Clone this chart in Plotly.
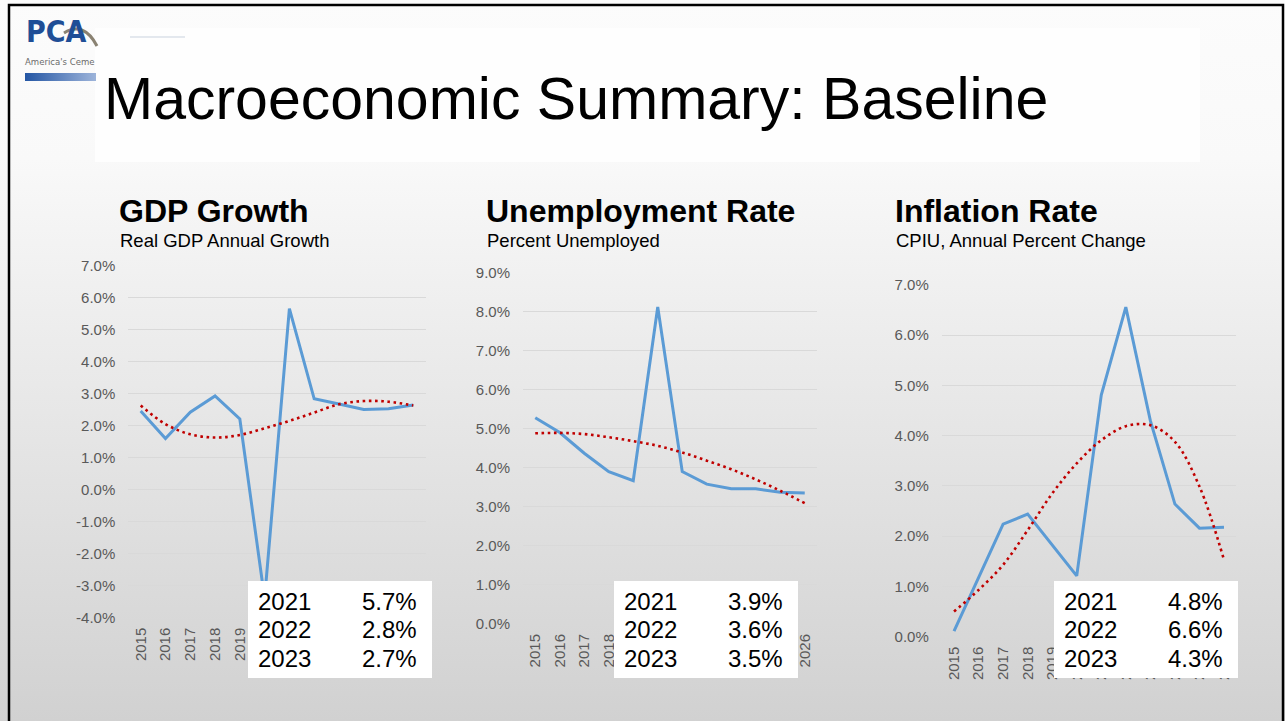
import base64
import plotly.graph_objects as go

# ---- data -------------------------------------------------------------
years = ["2015", "2016", "2017", "2018", "2019", "2020",
         "2021", "2022", "2023", "2024", "2025", "2026"]

gdp_growth = [2.46, 1.60, 2.42, 2.93, 2.21, -3.40, 5.66, 2.84, 2.68, 2.51, 2.53, 2.65]
gdp_trend = [2.63, 2.05, 1.73, 1.63, 1.71, 1.92, 2.15, 2.41, 2.67, 2.77, 2.75, 2.63]

unemployment = [5.28, 4.90, 4.37, 3.90, 3.67, 8.11, 3.90, 3.58, 3.46, 3.46, 3.37, 3.35]
unemployment_trend = [4.88, 4.89, 4.86, 4.78, 4.68, 4.56, 4.39, 4.18, 3.96, 3.70, 3.41, 3.09]

inflation = [0.11, 1.19, 2.24, 2.44, 1.82, 1.21, 4.81, 6.56, 4.30, 2.64, 2.16, 2.18]
inflation_trend = [0.50, 0.93, 1.43, 2.12, 2.85, 3.45, 3.91, 4.19, 4.21, 3.88, 2.99, 1.53]

table_years = ["2021", "2022", "2023"]

gdp_ticks = [-4, -3, -2, -1, 0, 1, 2, 3, 4, 5, 6, 7]
unemployment_ticks = [0, 1, 2, 3, 4, 5, 6, 7, 8, 9]
inflation_ticks = [0, 1, 2, 3, 4, 5, 6, 7]

# ---- page geometry helpers ---------------------------------------------
W, H = 1285, 721


def px(x):
    return x / W


def py(y):
    return 1 - y / H


FONT = "Liberation Sans, Arial, sans-serif"
COND = "DejaVu Sans Condensed, DejaVu Sans, sans-serif"
BLUE = "#5B9BD5"
RED = "#C00000"
GRID = "#D9D9D9"
TICK = "#595959"

panels = [
    dict(title="GDP Growth", subtitle="Real GDP Annual Growth",
         values=gdp_growth, trend=gdp_trend, ticks=gdp_ticks,
         xdom=(128.3, 425.7), ytop=265.7, ybot=617.7,
         head_x=117, box=(248, 581, 432, 678)),
    dict(title="Unemployment Rate", subtitle="Percent Unemployed",
         values=unemployment, trend=unemployment_trend, ticks=unemployment_ticks,
         xdom=(523.0, 817.0), ytop=272.3, ybot=624.0,
         head_x=484, box=(614, 581, 798, 678)),
    dict(title="Inflation Rate", subtitle="CPIU, Annual Percent Change",
         values=inflation, trend=inflation_trend, ticks=inflation_ticks,
         xdom=(941.75, 1236.25), ytop=285.0, ybot=636.7,
         head_x=893, box=(1054, 581, 1238, 678)),
]

fig = go.Figure()
shapes = []
annotations = []

# slide background: soft vertical gradient, title band and logo bar
svg = f"""<svg xmlns='http://www.w3.org/2000/svg' width='{W}' height='{H}' viewBox='0 0 {W} {H}' preserveAspectRatio='none'>
<defs><linearGradient id='g' x1='0' y1='0' x2='0' y2='1'>
<stop offset='0' stop-color='#fcfcfc'/>
<stop offset='0.22' stop-color='#f9f9f9'/>
<stop offset='1' stop-color='#d1d1d1'/>
</linearGradient>
<linearGradient id='b' x1='0' y1='0' x2='1' y2='0'>
<stop offset='0' stop-color='#2456a4'/>
<stop offset='1' stop-color='#9db4da'/>
</linearGradient></defs>
<rect x='0' y='0' width='{W}' height='{H}' fill='url(#g)'/>
<rect x='95' y='28' width='1105' height='134' fill='#fefefe'/>
<rect x='25' y='73' width='71' height='8' fill='url(#b)'/>
</svg>"""
fig.add_layout_image(
    source="data:image/svg+xml;base64," + base64.b64encode(svg.encode()).decode(),
    xref="paper", yref="paper", x=0, y=1, sizex=1, sizey=1,
    xanchor="left", yanchor="top", sizing="stretch", layer="below",
)

for i, p in enumerate(panels, start=1):
    xa = "x" if i == 1 else f"x{i}"
    ya = "y" if i == 1 else f"y{i}"
    fig.add_trace(go.Scatter(
        x=years, y=p["values"], mode="lines", xaxis=xa, yaxis=ya,
        line=dict(color=BLUE, width=3), showlegend=False, hoverinfo="skip"))
    fig.add_trace(go.Scatter(
        x=years, y=p["trend"], mode="lines", xaxis=xa, yaxis=ya,
        line=dict(color=RED, width=2.6, dash="2.6px,3.6px", shape="spline", smoothing=1.0),
        showlegend=False, hoverinfo="skip"))

    lo, hi = p["ticks"][0], p["ticks"][-1]
    xkey = "xaxis" if i == 1 else f"xaxis{i}"
    ykey = "yaxis" if i == 1 else f"yaxis{i}"
    fig.update_layout({
        xkey: dict(
            domain=[px(p["xdom"][0]), px(p["xdom"][1])], anchor=ya,
            type="category", range=[-0.5, len(years) - 0.5], automargin=False,
            showgrid=False, zeroline=False, showline=False,
            tickangle=-90, ticks="", ticklabelstandoff=6,
            tickfont=dict(family=FONT, size=15, color=TICK),
        ),
        ykey: dict(
            domain=[py(p["ybot"]), py(p["ytop"])], anchor=xa,
            range=[lo, hi], tickvals=p["ticks"], automargin=False,
            ticktext=[f"{v:.1f}%" for v in p["ticks"]],
            showgrid=True, gridcolor=GRID, gridwidth=1,
            zeroline=False, showline=False, ticks="", ticklabelstandoff=12,
            tickfont=dict(family=FONT, size=15, color=TICK),
        ),
    })

    # chart heading and sub-heading
    annotations.append(dict(
        text=f"<b>{p['title']}</b>", x=px(p["head_x"]), y=py(211),
        xref="paper", yref="paper", xanchor="left", yanchor="middle",
        showarrow=False, font=dict(family=FONT, size=32, color="#000000")))
    annotations.append(dict(
        text=p["subtitle"], x=px(p["head_x"] + 0.5), y=py(240),
        xref="paper", yref="paper", xanchor="left", yanchor="middle",
        showarrow=False, font=dict(family=FONT, size=18.5, color="#000000")))

    # white summary table for 2021-2023
    x0, y0, x1, y1 = p["box"]
    shapes.append(dict(type="rect", xref="paper", yref="paper", layer="above",
                       x0=px(x0), x1=px(x1), y0=py(y1), y1=py(y0),
                       fillcolor="#FFFFFF", line=dict(width=0)))
    for r, yr in enumerate(table_years):
        val = p["values"][years.index(yr)]
        yc = 601.0 + r * 28.8
        annotations.append(dict(
            text=yr, x=px(x0 + 8), y=py(yc), xref="paper", yref="paper",
            xanchor="left", yanchor="middle", showarrow=False,
            font=dict(family=FONT, size=24, color="#000000")))
        annotations.append(dict(
            text=f"{val:.1f}%", x=px(x1 - 13), y=py(yc), xref="paper", yref="paper",
            xanchor="right", yanchor="middle", showarrow=False,
            font=dict(family=FONT, size=24, color="#000000")))

# slide title
annotations.append(dict(
    text="Macroeconomic Summary: Baseline", x=px(102), y=py(99),
    xref="paper", yref="paper", xanchor="left", yanchor="middle",
    showarrow=False, font=dict(family=FONT, size=59, color="#000000")))

# logo mark
annotations.append(dict(
    text="<b>PCA</b>", x=px(24), y=py(32), xref="paper", yref="paper",
    xanchor="left", yanchor="middle", showarrow=False,
    font=dict(family=COND, size=30, color="#1F4E96")))
annotations.append(dict(
    text="America's Ceme", x=px(23), y=py(62), xref="paper", yref="paper",
    xanchor="left", yanchor="middle", showarrow=False,
    font=dict(family=COND, size=9.5, color="#6b6b6b")))
shapes.append(dict(type="path", xref="paper", yref="paper", layer="above",
                   path=f"M {px(64)} {py(33)} Q {px(84)} {py(21)} {px(97)} {py(46)}",
                   line=dict(color="#8a8272", width=3)))
shapes.append(dict(type="line", xref="paper", yref="paper", layer="above",
                   x0=px(130), x1=px(185), y0=py(37), y1=py(37),
                   line=dict(color="#c9d2de", width=1)))

# slide frame
shapes.append(dict(type="rect", xref="paper", yref="paper", layer="above",
                   x0=px(9), x1=px(1283), y0=py(735), y1=py(5),
                   line=dict(color="#000000", width=2.5), fillcolor="rgba(0,0,0,0)"))

fig.update_layout(
    width=W, height=H,
    margin=dict(l=0, r=0, t=0, b=0, pad=0, autoexpand=False),
    paper_bgcolor="#ffffff", plot_bgcolor="rgba(0,0,0,0)",
    showlegend=False, shapes=shapes, annotations=annotations,
)

fig.write_html("out.html", config={"displayModeBar": False})
